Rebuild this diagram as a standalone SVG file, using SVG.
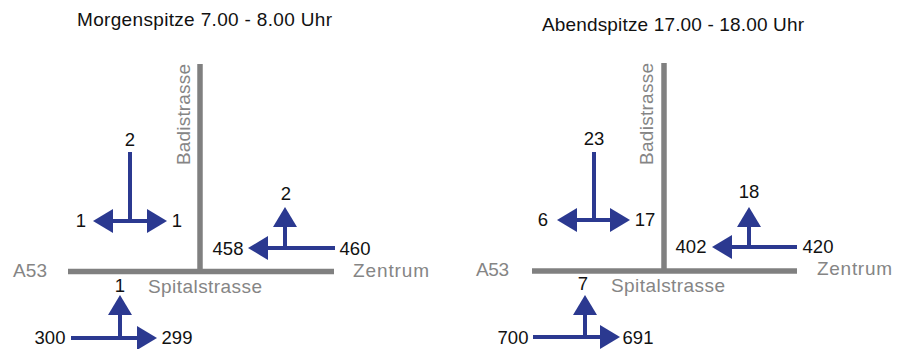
<svg xmlns="http://www.w3.org/2000/svg" width="904" height="349" viewBox="0 0 904 349">
<style>
.bg{fill:#fff}
.road{stroke:#808080;stroke-width:5.5;fill:none}
.flow{stroke:#2b3990;stroke-width:4;fill:none}
.title{font-family:"Liberation Sans",Arial,sans-serif;font-size:19px;fill:#111}
.street{font-family:"Liberation Sans",Arial,sans-serif;font-size:19px;fill:#858585}
.num{font-family:"Liberation Sans",Arial,sans-serif;font-size:18.5px;fill:#111;text-anchor:middle}
</style>
<defs>
<marker id="ah" viewBox="0 -12 20 24" refX="0" refY="0" markerWidth="20" markerHeight="24" markerUnits="userSpaceOnUse" orient="auto-start-reverse">
<path d="M0,-12 L20,0 L0,12 Z" fill="#2b3990"/>
</marker>
</defs>
<rect class="bg" x="0" y="0" width="904" height="349"/>

<g id="morning">
<text class="title" x="77" y="26" textLength="255">Morgenspitze 7.00 - 8.00 Uhr</text>
<g id="m-roads">
<line class="road" x1="200" y1="64" x2="200" y2="272"/>
<line class="road" x1="68" y1="271.5" x2="334" y2="271.5"/>
<text class="street" transform="translate(190,165) rotate(-90)" textLength="101">Badistrasse</text>
<text class="street" x="13" y="277" textLength="34">A53</text>
<text class="street" x="353" y="277" textLength="76">Zentrum</text>
<text class="street" x="148" y="293" textLength="114">Spitalstrasse</text>
</g>
<g id="m-connectors">
<line class="flow" x1="130" y1="152" x2="130" y2="221"/>
<line class="flow" x1="113" y1="221" x2="147" y2="221" marker-start="url(#ah)" marker-end="url(#ah)"/>
<line class="flow" x1="335" y1="248" x2="268" y2="248" marker-end="url(#ah)"/>
<line class="flow" x1="285" y1="248" x2="285" y2="227" marker-end="url(#ah)"/>
<line class="flow" x1="71" y1="338" x2="137" y2="338" marker-end="url(#ah)"/>
<line class="flow" x1="120" y1="338" x2="120" y2="315" marker-end="url(#ah)"/>
</g>
<g id="m-labels">
<text class="num" x="130" y="146">2</text>
<text class="num" x="81" y="227">1</text>
<text class="num" x="177" y="227">1</text>
<text class="num" x="286" y="200">2</text>
<text class="num" x="228" y="255">458</text>
<text class="num" x="355" y="255">460</text>
<text class="num" x="120" y="292">1</text>
<text class="num" x="50" y="344">300</text>
<text class="num" x="177" y="344">299</text>
</g>
</g>

<g id="evening">
<text class="title" x="542" y="30.5" textLength="262">Abendspitze 17.00 - 18.00 Uhr</text>
<g id="e-roads">
<line class="road" x1="664" y1="63" x2="664" y2="272"/>
<line class="road" x1="532" y1="271" x2="797" y2="271"/>
<text class="street" transform="translate(653,165) rotate(-90)" textLength="102">Badistrasse</text>
<text class="street" x="476" y="276" textLength="33">A53</text>
<text class="street" x="817" y="275" textLength="75">Zentrum</text>
<text class="street" x="611" y="292" textLength="114">Spitalstrasse</text>
</g>
<g id="e-connectors">
<line class="flow" x1="594" y1="152" x2="594" y2="220"/>
<line class="flow" x1="577" y1="220" x2="610" y2="220" marker-start="url(#ah)" marker-end="url(#ah)"/>
<line class="flow" x1="797" y1="247" x2="732" y2="247" marker-end="url(#ah)"/>
<line class="flow" x1="749" y1="247" x2="749" y2="227" marker-end="url(#ah)"/>
<line class="flow" x1="533" y1="337" x2="600" y2="337" marker-end="url(#ah)"/>
<line class="flow" x1="585" y1="337" x2="585" y2="315" marker-end="url(#ah)"/>
</g>
<g id="e-labels">
<text class="num" x="594" y="145">23</text>
<text class="num" x="543" y="226">6</text>
<text class="num" x="645" y="226">17</text>
<text class="num" x="749" y="198">18</text>
<text class="num" x="691" y="253">402</text>
<text class="num" x="818" y="253">420</text>
<text class="num" x="583" y="290">7</text>
<text class="num" x="513" y="344">700</text>
<text class="num" x="638" y="344">691</text>
</g>
</g>
</svg>
